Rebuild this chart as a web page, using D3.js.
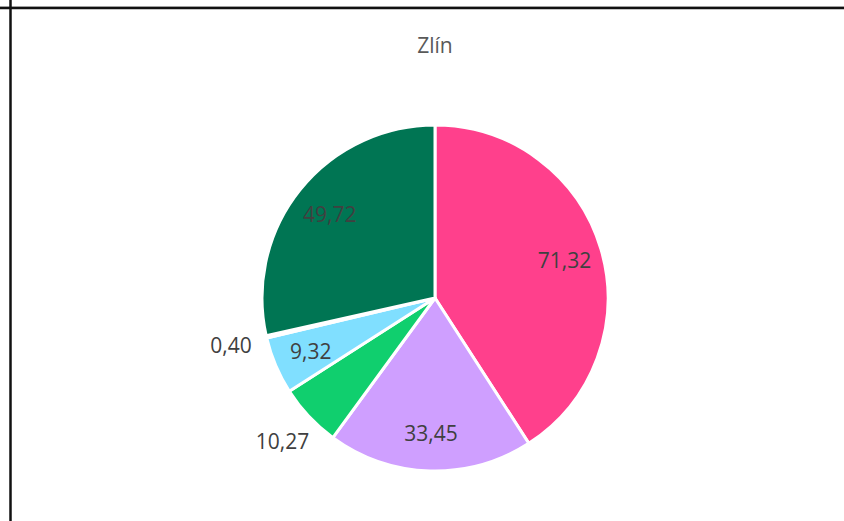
<!DOCTYPE html>
<html>
<head>
<meta charset="utf-8">
<script src="https://cdn.jsdelivr.net/npm/d3@7/dist/d3.min.js"></script>
<style>
  html, body { margin: 0; padding: 0; background: #ffffff; }
  svg { display: block; }
</style>
</head>
<body>
<script>
// Slices, clockwise from 12 o'clock
const categories = ["1", "2", "3", "4", "5", "6"];
const values = [71.32, 33.45, 10.27, 9.32, 0.40, 49.72];
const colors = ["#ff408c", "#cf9fff", "#10cf6e", "#80dfff", "#ffc000", "#007553"];
const valueLabels = ["71,32", "33,45", "10,27", "9,32", "0,40", "49,72"];
const title = "Zlín";

const W = 844, H = 521;
const cx = 435, cy = 298, R = 173;

const svg = d3.select("body").append("svg")
  .attr("width", W).attr("height", H);

// frame lines
svg.append("line").attr("x1", 0).attr("x2", W).attr("y1", 6.5).attr("y2", 6.5)
  .attr("stroke", "#d0d0d0").attr("stroke-width", 1);
svg.append("line").attr("x1", 0).attr("x2", W).attr("y1", 8).attr("y2", 8)
  .attr("stroke", "#111").attr("stroke-width", 2.5);
svg.append("line").attr("x1", 10.5).attr("x2", 10.5).attr("y1", 0).attr("y2", H)
  .attr("stroke", "#111").attr("stroke-width", 2.5);

svg.append("text")
  .attr("x", cx).attr("y", 53)
  .attr("text-anchor", "middle")
  .attr("font-family", "'Open Sans', sans-serif")
  .attr("font-size", 21)
  .attr("fill", "#595959")
  .text(title);

const data = categories.map((c, i) => ({ cat: c, value: values[i], color: colors[i], label: valueLabels[i] }));

const pie = d3.pie().value(d => d.value).sort(null);
const arcs = pie(data);
const arc = d3.arc().innerRadius(0).outerRadius(R);

const g = svg.append("g").attr("transform", `translate(${cx},${cy})`);

g.selectAll("path").data(arcs).enter().append("path")
  .attr("d", arc)
  .attr("fill", d => d.data.color)
  .attr("stroke", "#ffffff")
  .attr("stroke-width", 3)
  .attr("stroke-linejoin", "round");

// small slices (3rd and 5th) carry their label outside the pie
const outside = new Set([2, 4]);
const inArc = d3.arc().innerRadius(R * 0.78).outerRadius(R * 0.78);
const outArc = d3.arc().innerRadius(R * 1.21).outerRadius(R * 1.21);

g.selectAll("text.val").data(arcs).enter().append("text")
  .attr("class", "val")
  .attr("transform", (d, i) => {
    const p = (outside.has(i) ? outArc : inArc).centroid(d);
    return `translate(${p[0]},${p[1]})`;
  })
  .attr("text-anchor", "middle")
  .attr("dominant-baseline", "central")
  .attr("font-family", "'Open Sans', sans-serif")
  .attr("font-size", 21)
  .attr("fill", "#404040")
  .text(d => d.data.label);
</script>
</body>
</html>
